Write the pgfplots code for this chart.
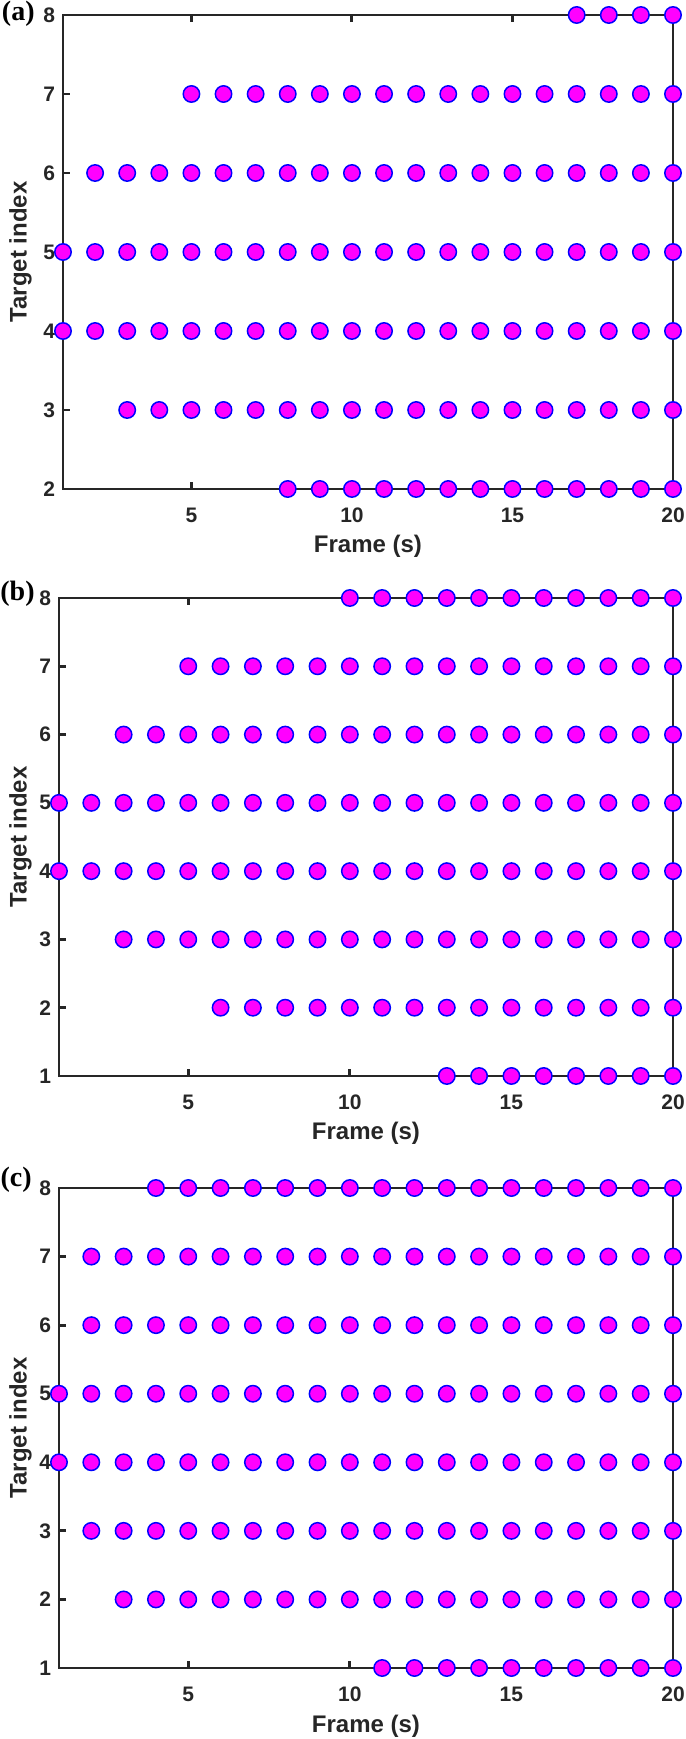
\documentclass[border=0pt]{standalone}
\usepackage{fontspec}
\setmainfont{Liberation Sans}
\newfontfamily\tnr{Liberation Serif}
\usepackage{pgfplots}
\pgfplotsset{compat=1.18}
\definecolor{axgray}{RGB}{38,38,38}
\definecolor{mag}{RGB}{255,0,255}
\definecolor{blu}{RGB}{0,0,255}
\pgfplotsset{
  panel/.style={
    scale only axis,
    anchor=north west,
    clip=false,
    xmin=1, xmax=20,
    xtick={5,10,15,20},
    ymax=8,
    ytick distance=1,
    tick align=inside,
    major tick length=3.5pt,
    axis line style={draw=axgray, line width=1.45pt},
    every tick/.append style={draw=axgray, line width=1.45pt},
    /pgf/number format/assume math mode=true,
    ticklabel style={font=\fontsize{10.5}{12}\selectfont\bfseries, text=axgray},
    xticklabel style={yshift=-5.8pt},
    yticklabel style={xshift=-0.5pt},
    label style={font=\fontsize{12}{14}\selectfont\bfseries, text=axgray},
    xlabel={Frame (s)},
    ylabel={Target index},
    xlabel style={at={(axis description cs:0.5,0)}, anchor=base, yshift=-32pt},
  },
  dots/.style={only marks, mark=*, mark size=4.1pt,
    mark options={fill=mag, draw=blu, line width=0.75pt}},
}
\begin{document}
\begin{tikzpicture}
\useasboundingbox (0,0) rectangle (342.5pt,-869.5pt);
% ---------------- (a)
\begin{axis}[panel, at={(31.5pt,-7.5pt)}, width=305pt, height=237pt, ymin=2,
  ylabel style={at={(axis description cs:-0.0598,0.5)}, anchor=base}]
\addplot[dots] coordinates {(17,8)(18,8)(19,8)(20,8)};
\addplot[dots] coordinates {(5,7)(6,7)(7,7)(8,7)(9,7)(10,7)(11,7)(12,7)(13,7)(14,7)(15,7)(16,7)(17,7)(18,7)(19,7)(20,7)};
\addplot[dots] coordinates {(2,6)(3,6)(4,6)(5,6)(6,6)(7,6)(8,6)(9,6)(10,6)(11,6)(12,6)(13,6)(14,6)(15,6)(16,6)(17,6)(18,6)(19,6)(20,6)};
\addplot[dots] coordinates {(1,5)(2,5)(3,5)(4,5)(5,5)(6,5)(7,5)(8,5)(9,5)(10,5)(11,5)(12,5)(13,5)(14,5)(15,5)(16,5)(17,5)(18,5)(19,5)(20,5)};
\addplot[dots] coordinates {(1,4)(2,4)(3,4)(4,4)(5,4)(6,4)(7,4)(8,4)(9,4)(10,4)(11,4)(12,4)(13,4)(14,4)(15,4)(16,4)(17,4)(18,4)(19,4)(20,4)};
\addplot[dots] coordinates {(3,3)(4,3)(5,3)(6,3)(7,3)(8,3)(9,3)(10,3)(11,3)(12,3)(13,3)(14,3)(15,3)(16,3)(17,3)(18,3)(19,3)(20,3)};
\addplot[dots] coordinates {(8,2)(9,2)(10,2)(11,2)(12,2)(13,2)(14,2)(15,2)(16,2)(17,2)(18,2)(19,2)(20,2)};
\node[anchor=east, inner sep=0pt, font=\tnr\bfseries\fontsize{14}{16}\selectfont, xshift=-14pt, yshift=0.5pt] at (rel axis cs:0,1) {(a)};
\end{axis}
% ---------------- (b)
\begin{axis}[panel, at={(29.5pt,-299pt)}, width=307pt, height=239pt, ymin=1,
  ylabel style={at={(axis description cs:-0.0529,0.5)}, anchor=base}]
\addplot[dots] coordinates {(10,8)(11,8)(12,8)(13,8)(14,8)(15,8)(16,8)(17,8)(18,8)(19,8)(20,8)};
\addplot[dots] coordinates {(5,7)(6,7)(7,7)(8,7)(9,7)(10,7)(11,7)(12,7)(13,7)(14,7)(15,7)(16,7)(17,7)(18,7)(19,7)(20,7)};
\addplot[dots] coordinates {(3,6)(4,6)(5,6)(6,6)(7,6)(8,6)(9,6)(10,6)(11,6)(12,6)(13,6)(14,6)(15,6)(16,6)(17,6)(18,6)(19,6)(20,6)};
\addplot[dots] coordinates {(1,5)(2,5)(3,5)(4,5)(5,5)(6,5)(7,5)(8,5)(9,5)(10,5)(11,5)(12,5)(13,5)(14,5)(15,5)(16,5)(17,5)(18,5)(19,5)(20,5)};
\addplot[dots] coordinates {(1,4)(2,4)(3,4)(4,4)(5,4)(6,4)(7,4)(8,4)(9,4)(10,4)(11,4)(12,4)(13,4)(14,4)(15,4)(16,4)(17,4)(18,4)(19,4)(20,4)};
\addplot[dots] coordinates {(3,3)(4,3)(5,3)(6,3)(7,3)(8,3)(9,3)(10,3)(11,3)(12,3)(13,3)(14,3)(15,3)(16,3)(17,3)(18,3)(19,3)(20,3)};
\addplot[dots] coordinates {(6,2)(7,2)(8,2)(9,2)(10,2)(11,2)(12,2)(13,2)(14,2)(15,2)(16,2)(17,2)(18,2)(19,2)(20,2)};
\addplot[dots] coordinates {(13,1)(14,1)(15,1)(16,1)(17,1)(18,1)(19,1)(20,1)};
\node[anchor=east, inner sep=0pt, font=\tnr\bfseries\fontsize{14}{16}\selectfont, xshift=-12pt, yshift=2pt] at (rel axis cs:0,1) {(b)};
\end{axis}
% ---------------- (c)
\begin{axis}[panel, at={(29.5pt,-594pt)}, width=307pt, height=240pt, ymin=1,
  ylabel style={at={(axis description cs:-0.0529,0.5)}, anchor=base}]
\addplot[dots] coordinates {(4,8)(5,8)(6,8)(7,8)(8,8)(9,8)(10,8)(11,8)(12,8)(13,8)(14,8)(15,8)(16,8)(17,8)(18,8)(19,8)(20,8)};
\addplot[dots] coordinates {(2,7)(3,7)(4,7)(5,7)(6,7)(7,7)(8,7)(9,7)(10,7)(11,7)(12,7)(13,7)(14,7)(15,7)(16,7)(17,7)(18,7)(19,7)(20,7)};
\addplot[dots] coordinates {(2,6)(3,6)(4,6)(5,6)(6,6)(7,6)(8,6)(9,6)(10,6)(11,6)(12,6)(13,6)(14,6)(15,6)(16,6)(17,6)(18,6)(19,6)(20,6)};
\addplot[dots] coordinates {(1,5)(2,5)(3,5)(4,5)(5,5)(6,5)(7,5)(8,5)(9,5)(10,5)(11,5)(12,5)(13,5)(14,5)(15,5)(16,5)(17,5)(18,5)(19,5)(20,5)};
\addplot[dots] coordinates {(1,4)(2,4)(3,4)(4,4)(5,4)(6,4)(7,4)(8,4)(9,4)(10,4)(11,4)(12,4)(13,4)(14,4)(15,4)(16,4)(17,4)(18,4)(19,4)(20,4)};
\addplot[dots] coordinates {(2,3)(3,3)(4,3)(5,3)(6,3)(7,3)(8,3)(9,3)(10,3)(11,3)(12,3)(13,3)(14,3)(15,3)(16,3)(17,3)(18,3)(19,3)(20,3)};
\addplot[dots] coordinates {(3,2)(4,2)(5,2)(6,2)(7,2)(8,2)(9,2)(10,2)(11,2)(12,2)(13,2)(14,2)(15,2)(16,2)(17,2)(18,2)(19,2)(20,2)};
\addplot[dots] coordinates {(11,1)(12,1)(13,1)(14,1)(15,1)(16,1)(17,1)(18,1)(19,1)(20,1)};
\node[anchor=east, inner sep=0pt, font=\tnr\bfseries\fontsize{14}{16}\selectfont, xshift=-13.5pt, yshift=4pt] at (rel axis cs:0,1) {(c)};
\end{axis}
\end{tikzpicture}
\end{document}
